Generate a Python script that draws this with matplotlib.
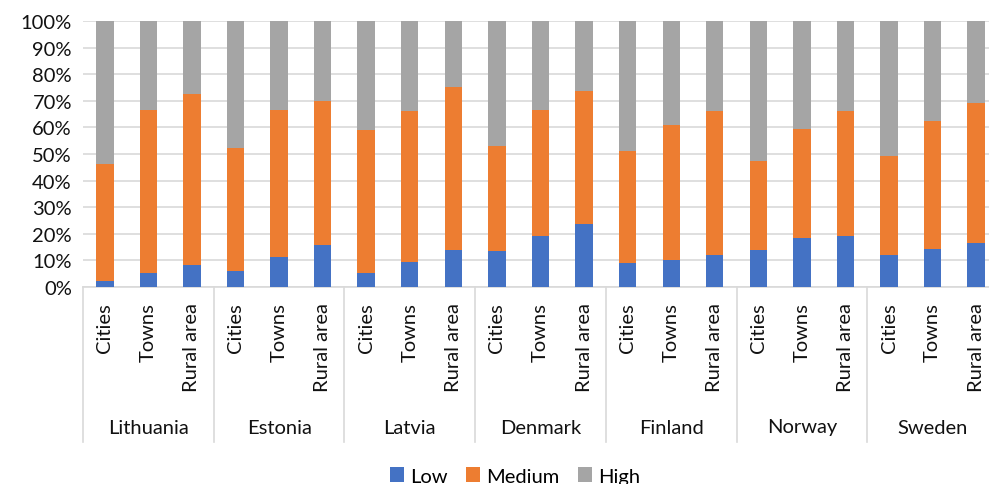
import matplotlib.pyplot as plt
from matplotlib.patches import Patch
from matplotlib.ticker import PercentFormatter

plt.rcParams['font.family'] = ['Lato', 'DejaVu Sans']

countries = ['Lithuania', 'Estonia', 'Latvia', 'Denmark', 'Finland', 'Norway', 'Sweden']
areas = ['Cities', 'Towns', 'Rural area']

# shares (%) per country, in order Cities, Towns, Rural area
low = [2.4, 5.4, 8.1,
       6.1, 11.3, 15.8,
       5.4, 9.3, 14.0,
       13.4, 19.3, 23.6,
       9.0, 10.3, 12.2,
       13.9, 18.3, 19.3,
       11.9, 14.4, 16.6]
medium = [43.8, 61.3, 64.6,
          46.1, 55.1, 54.0,
          53.6, 56.7, 61.1,
          39.7, 47.3, 50.0,
          42.2, 50.5, 53.9,
          33.5, 41.0, 46.7,
          37.5, 47.9, 52.4]
high = [53.8, 33.3, 27.3,
        47.8, 33.6, 30.2,
        41.0, 34.0, 24.9,
        46.9, 33.4, 26.4,
        48.8, 39.2, 33.9,
        52.6, 40.7, 34.0,
        50.6, 37.7, 31.0]

colors = {'Low': '#4472C4', 'Medium': '#ED7D31', 'High': '#A5A5A5'}
grid_col = '#D9D9D9'
txt_col = '#111111'
fs = 14.5

W, H = 989, 485
fig = plt.figure(figsize=(W / 100, H / 100), dpi=100)
# plot area runs a little past the right edge of the canvas
ax = fig.add_axes([83 / W, (H - 288) / H, (998 - 83) / W, 266 / H])

x = list(range(len(low)))
bottom_high = [a + b for a, b in zip(low, medium)]
ax.bar(x, low, width=0.4, color=colors['Low'], zorder=3)
ax.bar(x, medium, width=0.4, bottom=low, color=colors['Medium'], zorder=3)
ax.bar(x, high, width=0.4, bottom=bottom_high, color=colors['High'], zorder=3)

ax.set_xlim(-0.5, len(x) - 0.5)
ax.set_ylim(0, 100)
ax.set_yticks(range(0, 101, 10))
ax.yaxis.set_major_formatter(PercentFormatter(decimals=0))
ax.tick_params(axis='y', length=0, pad=8, labelsize=fs, labelcolor=txt_col)
ax.set_xticks([])
ax.grid(axis='y', color=grid_col, linewidth=1.2, zorder=0)
for s in ['top', 'right', 'left']:
    ax.spines[s].set_visible(False)
ax.spines['bottom'].set_color(grid_col)
ax.spines['bottom'].set_linewidth(1.2)

# category labels, country labels and group separators
for i, xi in enumerate(x):
    ax.annotate(areas[i % 3], xy=(xi, 0), xycoords=('data', 'axes fraction'),
                xytext=(0, -15), textcoords='offset pixels',
                rotation=90, ha='center', va='top', fontsize=fs, color=txt_col)
for g, name in enumerate(countries):
    ax.annotate(name, xy=(g * 3 + 1, 0), xycoords=('data', 'axes fraction'),
                xytext=(0, -140), textcoords='offset pixels',
                ha='center', va='center', fontsize=fs, color=txt_col)
for g in range(len(countries) + 1):
    ax.plot([g * 3 - 0.5, g * 3 - 0.5], [0, -155 / 266],
            transform=ax.get_xaxis_transform(), color=grid_col,
            linewidth=1.2, clip_on=False)

handles = [Patch(facecolor=colors[k], label=k) for k in ['Low', 'Medium', 'High']]
fig.legend(handles=handles, loc='center', bbox_to_anchor=(515 / W, 8 / H),
           ncol=3, frameon=False, fontsize=fs, handlelength=0.7,
           handleheight=0.7, handletextpad=0.3, columnspacing=0.9)

fig.savefig('out.png', dpi=100)
